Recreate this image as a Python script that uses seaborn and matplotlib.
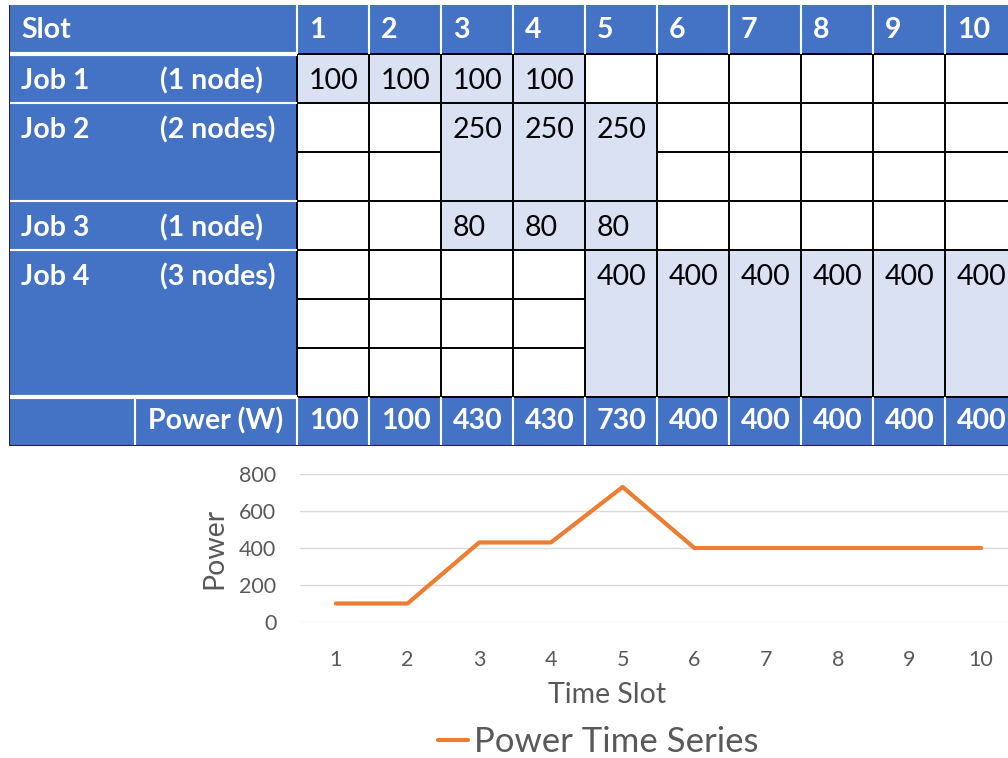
import numpy as np
import matplotlib.pyplot as plt
from matplotlib.colors import ListedColormap
import seaborn as sns

# ========== DATA ==========
slots = [1, 2, 3, 4, 5, 6, 7, 8, 9, 10]
job_names = ['Job 1', 'Job 2', 'Job 3', 'Job 4']
job_nodes = ['(1 node)', '(2 nodes)', '(1 node)', '(3 nodes)']
node_count = [1, 2, 1, 3]
job1_power = [100, 100, 100, 100, 0, 0, 0, 0, 0, 0]
job2_power = [0, 0, 250, 250, 250, 0, 0, 0, 0, 0]
job3_power = [0, 0, 80, 80, 80, 0, 0, 0, 0, 0]
job4_power = [0, 0, 0, 0, 400, 400, 400, 400, 400, 400]
power_total = [100, 100, 430, 430, 730, 400, 400, 400, 400, 400]

HEAD = '#4472C4'
CELL = '#D9E1F2'
ORANGE = '#ED7D31'
GREY = '#595959'

sns.set_style('white')
plt.rcParams['font.family'] = ['Lato', 'DejaVu Sans']

fig = plt.figure(figsize=(10.08, 7.58), dpi=100)

# ========== TABLE (heatmap) ==========
job_power = [job1_power, job2_power, job3_power, job4_power]
n_label = 4                      # label block is 4 slot-widths wide
n_sub = sum(node_count)
n_rows = n_sub + 2               # header + node rows + power row
n_cols = n_label + len(slots)

grid = np.full((n_rows, n_cols), 2)
row_start = []
r = 1
for k, p in enumerate(job_power):
    row_start.append(r)
    for s in range(node_count[k]):
        for j in range(len(slots)):
            grid[r + s, n_label + j] = 1 if p[j] > 0 else 0
    r += node_count[k]

# pixel layout: table from x=9, y=5, slot width 72 px, row height 49 px
W, H = 1008, 758
ax = fig.add_axes([9 / W, 1 - (5 + 49 * n_rows) / H, 72 * n_cols / W, 49 * n_rows / H])
sns.heatmap(grid, ax=ax, cmap=ListedColormap(['white', CELL, HEAD]), vmin=0, vmax=2,
            cbar=False, xticklabels=False, yticklabels=False, linewidths=0)
ax.set_xlim(0, n_cols)
ax.set_ylim(n_rows, 0)

# black grid lines in the slot area
for x in range(n_label, n_cols + 1):
    ax.vlines(x, 1, n_rows - 1, color='black', lw=1.4)
ax.hlines([1, n_rows - 1], n_label, n_cols, color='black', lw=1.4)
for k, p in enumerate(job_power):
    r0 = row_start[k]
    if k > 0:
        ax.hlines(r0, n_label, n_cols, color='black', lw=1.4)
    for s in range(1, node_count[k]):
        for j in range(len(slots)):
            if p[j] == 0:
                ax.hlines(r0 + s, n_label + j, n_label + j + 1, color='black', lw=1.4)

# white separators in the blue areas
ax.hlines([1, n_rows - 1], 0, n_label, color='white', lw=3)
ax.hlines(row_start[1:], 0, n_label, color='white', lw=1.5)
for x in range(n_label, n_cols):
    ax.vlines(x, 0, 1, color='white', lw=1.5)
    ax.vlines(x, n_rows - 1, n_rows, color='white', lw=1.5)
ax.vlines(1.75, n_rows - 1, n_rows, color='white', lw=1.5)
ax.vlines(0, 0, n_rows, color='#262626', lw=1.5)
ax.hlines(n_rows, 0, n_cols, color='#262626', lw=1.5)

# table text
fs = 20.5
ax.text(0.167, 0.52, 'Slot', color='white', fontsize=fs, fontweight='bold', va='center')
for j, s in enumerate(slots):
    ax.text(n_label + j + 0.167, 0.52, str(s), color='white', fontsize=fs,
            fontweight='bold', va='center')
    ax.text(n_label + j + 0.167, n_rows - 0.52, str(power_total[j]), color='white',
            fontsize=fs, fontweight='bold', va='center')
for k, p in enumerate(job_power):
    r0 = row_start[k]
    ax.text(0.167, r0 + 0.55, job_names[k], color='white', fontsize=fs,
            fontweight='bold', va='center')
    ax.text(2.1, r0 + 0.55, job_nodes[k], color='white', fontsize=fs,
            fontweight='bold', va='center')
    for j, v in enumerate(p):
        if v > 0:
            ax.text(n_label + j + 0.167, r0 + 0.55, str(v), color='black',
                    fontsize=fs, va='center')
ax.text((1.75 + n_label) / 2, n_rows - 0.52, 'Power (W)', color='white', fontsize=fs,
        fontweight='bold', va='center', ha='center')

# ========== LINE CHART ==========
ax2 = fig.add_axes([300 / W, (H - 622) / H, 717 / W, 148 / H])
sns.lineplot(x=slots, y=power_total, ax=ax2, color=ORANGE, lw=3,
             label='Power Time Series', legend=False)
ax2.set_xlim(0.5, 10.5)
ax2.set_ylim(0, 800)
ax2.set_yticks([0, 200, 400, 600, 800])
ax2.set_xticks(slots)
ax2.grid(axis='y', color='#D9D9D9', lw=1)
ax2.set_axisbelow(True)
sns.despine(ax=ax2, left=True, bottom=True)
ax2.tick_params(axis='y', length=0, pad=17, labelsize=15.5, labelcolor=GREY)
ax2.tick_params(axis='x', length=0, pad=20, labelsize=15.5, labelcolor=GREY)
ax2.set_xlabel('Time Slot', fontsize=20.5, color=GREY)
ax2.set_ylabel('Power', fontsize=20.5, color=GREY)
ax2.xaxis.set_label_coords(0.428, -0.49)
ax2.yaxis.set_label_coords(-0.12, 0.5)
ax2.xaxis.label.set_va('center')
ax2.yaxis.label.set_va('center')

fig.legend(loc='center', bbox_to_anchor=(598 / W, 16 / H), frameon=False,
           fontsize=25, handlelength=0.86, handletextpad=0.17, labelcolor=GREY)

plt.savefig('out.png', dpi=100)
